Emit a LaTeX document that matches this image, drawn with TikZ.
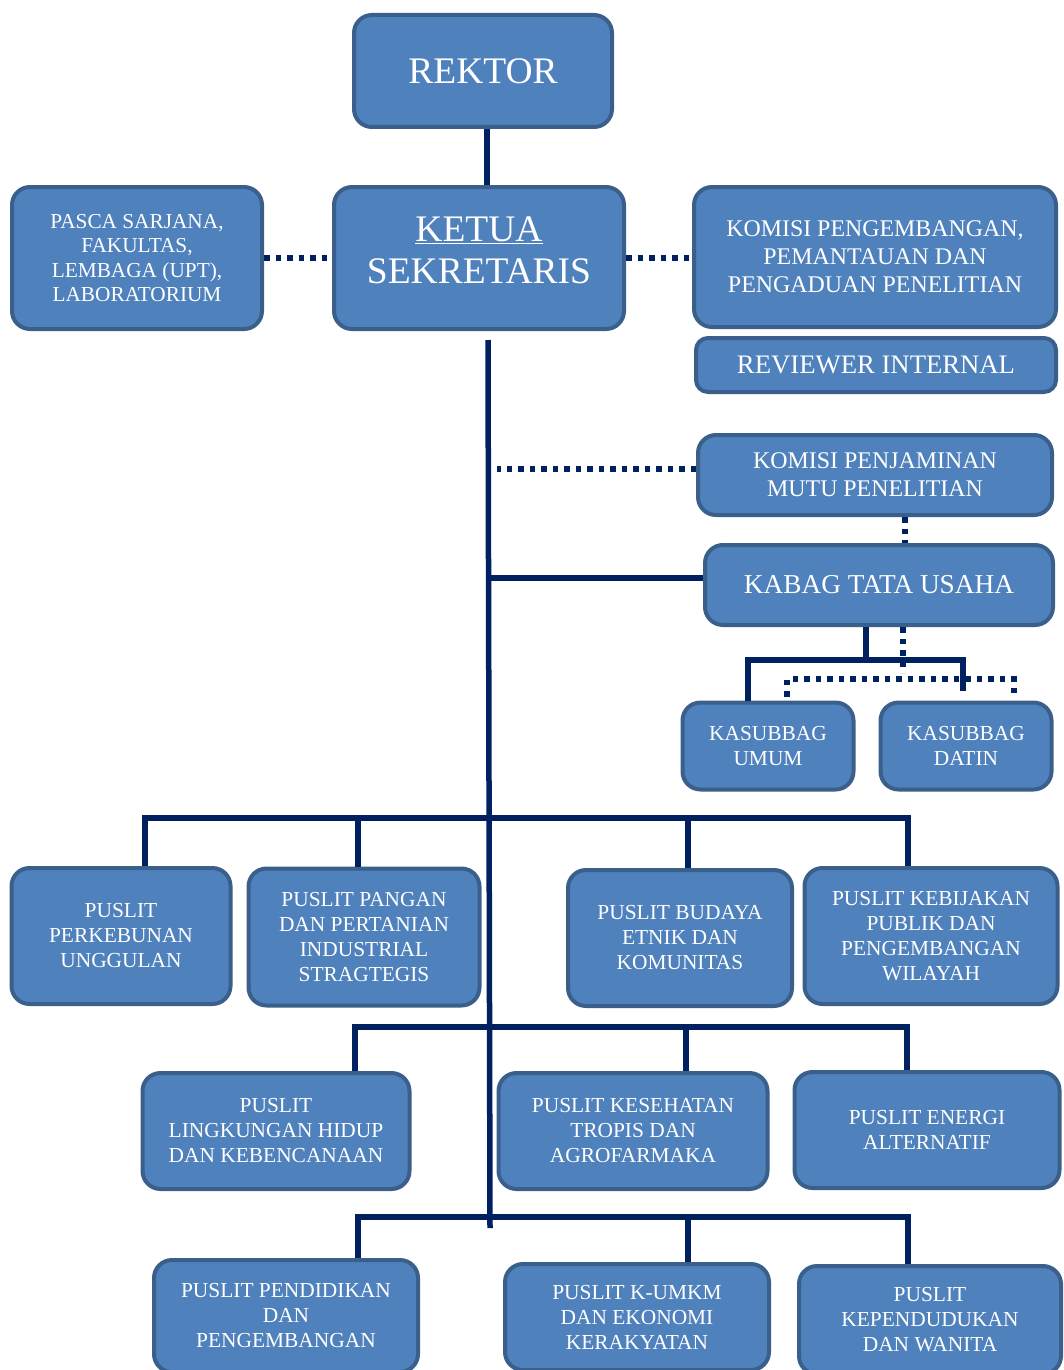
\documentclass[tikz,border=0pt]{standalone}
\usepackage{fontspec}
\setmainfont{Liberation Serif}
\usepackage{tikz}
\definecolor{boxfill}{HTML}{4F81BD}
\definecolor{boxline}{HTML}{3A5F8B}
\definecolor{linknavy}{HTML}{002060}
\newcommand{\fshead}[0]{\fontsize{37.5}{42}\selectfont}
\newcommand{\fsmid}[0]{\fontsize{27.3}{30}\selectfont}
\newcommand{\fskom}[0]{\fontsize{23.9}{28}\selectfont}
\newcommand{\fsunit}[0]{\fontsize{21.4}{25}\selectfont}
\newcommand{\fspasca}[0]{\fontsize{21.3}{24.5}\selectfont}
\tikzset{
unit/.style={
  draw=boxline,
  fill=boxfill,
  line width=4pt,
  rounded corners=18pt,
  text=white,
  align=center,
  inner sep=0pt
  },
boxsize/.style 2 args={minimum width=#1, minimum height=#2}
}
\tikzset{
link/.style={draw=linknavy, line width=5.5pt},
dotlink/.style={draw=linknavy, line width=5.5pt, dash pattern=on 5.5pt off 6pt}
}
\tikzset{%
    boundingBox/.style={use as bounding box},
    }

\begin{document}
\begin{tikzpicture}[x=1pt, y=-1pt]
        \path[boundingBox] (0,0) rectangle (1063,1370);

	%vertices
	\node (rektor) at (483,71) [unit, boxsize={258pt}{112pt}, font=\fshead] {REKTOR};
	\node (ketua) at (479,258) [unit, boxsize={290pt}{142pt}, font=\fshead, text depth=16pt] {\underline{KETUA}\\SEKRETARIS};
	\node (pasca) at (137,258) [unit, boxsize={250pt}{142pt}, font=\fspasca] {PASCA SARJANA,\\FAKULTAS,\\LEMBAGA (UPT),\\LABORATORIUM};
	\node (komisia) at (875,257) [unit, boxsize={362pt}{140pt}, font=\fskom] {KOMISI PENGEMBANGAN,\\PEMANTAUAN DAN\\PENGADUAN PENELITIAN};
	\node (reviewer) at (876,365) [unit, boxsize={360pt}{54pt}, rounded corners=12pt, font=\fontsize{26.7}{28}\selectfont] {REVIEWER INTERNAL};
	\node (komisib) at (875,475) [unit, boxsize={354pt}{80pt}, font=\fskom] {KOMISI PENJAMINAN\\MUTU PENELITIAN};
	\node (tatausaha) at (879,585) [unit, boxsize={348pt}{80pt}, font=\fsmid] {KABAG TATA USAHA};
	\node (umum) at (768,746) [unit, boxsize={171pt}{87pt}, font=\fsunit] {KASUBBAG\\UMUM};
	\node (datin) at (966,746) [unit, boxsize={171pt}{87pt}, font=\fsunit] {KASUBBAG\\DATIN};

	\node (perkebunan) at (121,936) [unit, boxsize={219pt}{136pt}, font=\fsunit] {PUSLIT\\PERKEBUNAN\\UNGGULAN};
	\node (pangan) at (364,937) [unit, boxsize={231pt}{137pt}, font=\fsunit] {PUSLIT PANGAN\\DAN PERTANIAN\\INDUSTRIAL\\STRAGTEGIS};
	\node (budaya) at (680,938) [unit, boxsize={224pt}{136pt}, font=\fsunit] {PUSLIT BUDAYA\\ETNIK DAN\\KOMUNITAS};
	\node (kebijakan) at (931,936) [unit, boxsize={253pt}{136pt}, font=\fsunit] {PUSLIT KEBIJAKAN\\PUBLIK DAN\\PENGEMBANGAN\\WILAYAH};

	\node (lingkungan) at (276,1131) [unit, boxsize={267pt}{116pt}, font=\fsunit] {PUSLIT\\LINGKUNGAN HIDUP\\DAN KEBENCANAAN};
	\node (kesehatan) at (633,1131) [unit, boxsize={269pt}{116pt}, font=\fsunit] {PUSLIT KESEHATAN\\TROPIS DAN\\AGROFARMAKA};
	\node (energi) at (927,1130) [unit, boxsize={265pt}{116pt}, font=\fsunit] {PUSLIT ENERGI\\ALTERNATIF};

	\node (pendidikan) at (286,1316) [unit, boxsize={264pt}{112pt}, font=\fsunit] {PUSLIT PENDIDIKAN\\DAN\\PENGEMBANGAN};
	\node (kumkm) at (637,1317) [unit, boxsize={264pt}{106pt}, font=\fsunit] {PUSLIT K-UMKM\\DAN EKONOMI\\KERAKYATAN};
	\node (kependudukan) at (930,1320) [unit, boxsize={262pt}{108pt}, font=\fsunit] {PUSLIT\\KEPENDUDUKAN\\DAN WANITA};

	%bends
	\coordinate (trunktop) at (488,340);
	\coordinate (trunkbot) at (490,1228);
	\coordinate (tusolid) at (866,660);
	\coordinate (tusolidl) at (748,660);
	\coordinate (tusolidr) at (963,660);
	\coordinate (tudot) at (903,673);
	\coordinate (tudotl) at (787,679);
	\coordinate (tudotr) at (1014,679);
	\coordinate (mutudot) at (905,500);
	\coordinate (busaw) at (145,818);
	\coordinate (busab) at (358,818);
	\coordinate (busac) at (688,818);
	\coordinate (busae) at (908,818);
	\coordinate (busbw) at (355,1027);
	\coordinate (busbc) at (686,1027);
	\coordinate (busbe) at (907,1027);
	\coordinate (buscw) at (358,1217);
	\coordinate (buscc) at (688,1217);
	\coordinate (busce) at (908,1217);

	%edges
	\draw[link] ([xshift=4pt]rektor.south) -- ([xshift=4pt]rektor.south |- ketua.north);
	\draw[link] (trunktop) -- (trunkbot);

	\draw[dotlink] (pasca.east) -- (ketua.west);
	\draw[dotlink] (ketua.east) -- (ketua.east -| komisia.west);
	\draw[dotlink] ([yshift=6pt]komisib.west) -- ([yshift=6pt, xshift=9pt]komisib.west -| trunktop);
	\draw[dotlink] (komisib.south -| mutudot) -- (tatausaha.north -| mutudot);
	\draw[link] ([yshift=7pt]tatausaha.west) -- ([yshift=7pt]tatausaha.west -| trunktop);

	\draw[link] (tatausaha.south -| tusolid) -- (tusolid);
	\draw[link] (umum.north -| tusolidl) -- (tusolidl) -- (tusolidr) -- ([yshift=10pt]datin.north -| tusolidr);
	\draw[dotlink] (tatausaha.south -| tudot) -- (tudot);
	\draw[dotlink] ([yshift=4pt]umum.north -| tudotl) -- (tudotl) -- (tudotr) -- ([yshift=4pt]datin.north -| tudotr);

	\draw[link] (perkebunan.north -| busaw) -- (busaw) -- (busae) -- (kebijakan.north -| busae);
	\draw[link] (busab) -- (pangan.north -| busab);
	\draw[link] (busac) -- (budaya.north -| busac);

	\draw[link] (lingkungan.north -| busbw) -- (busbw) -- (busbe) -- (energi.north -| busbe);
	\draw[link] (busbc) -- (kesehatan.north -| busbc);

	\draw[link] (pendidikan.north -| buscw) -- (buscw) -- (busce) -- (kependudukan.north -| busce);
	\draw[link] (buscc) -- (kumkm.north -| buscc);
\end{tikzpicture}
\end{document}
